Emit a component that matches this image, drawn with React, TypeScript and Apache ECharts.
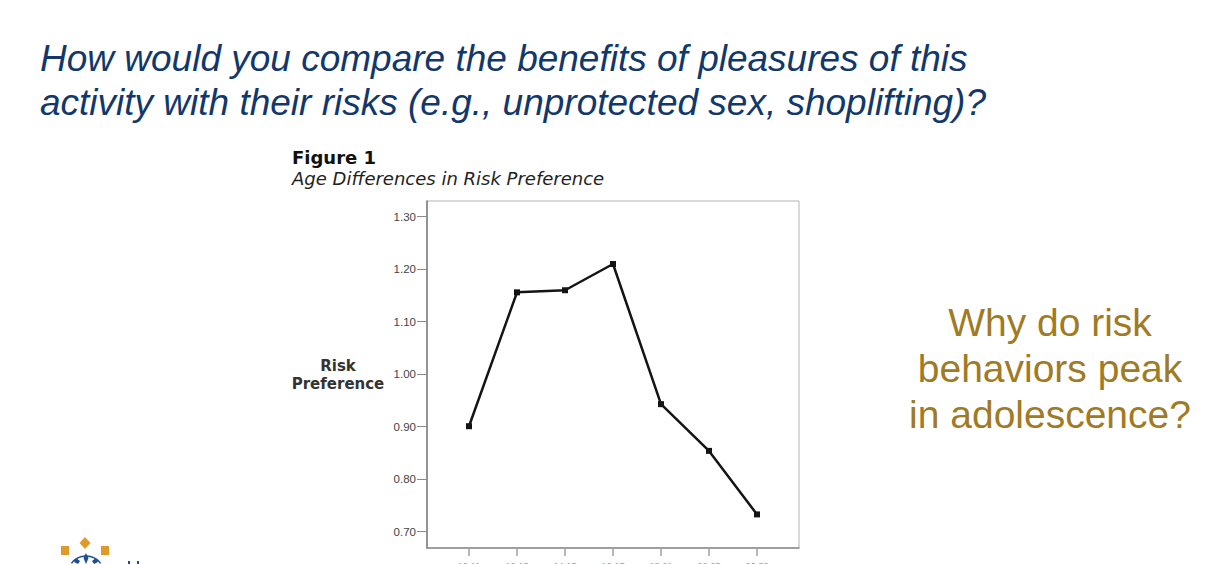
import React, { useEffect, useRef } from "react";
import * as echarts from "echarts";

const ageGroups = ["10-11", "12-13", "14-15", "16-17", "18-21", "22-25", "26-30"];
const riskPreference = [0.901, 1.156, 1.16, 1.21, 0.943, 0.854, 0.733];
const yTickValues = [0.7, 0.8, 0.9, 1.0, 1.1, 1.2, 1.3];
const xTickValues = ageGroups.map((_, i) => i);

const questionLines = [
  "How would you compare the benefits of pleasures of this",
  "activity with their risks (e.g., unprotected sex, shoplifting)?",
];
const sideLines = ["Why do risk", "behaviors peak", "in adolescence?"];

export default function App() {
  const ref = useRef<HTMLDivElement>(null);
  useEffect(() => {
    if (!ref.current) return;
    const chart = echarts.init(ref.current, undefined, { renderer: "svg" });
    const graphics: any[] = [];
    questionLines.forEach((t, i) => {
      graphics.push({
        type: "text",
        x: 40,
        y: 58 + i * 44,
        style: {
          text: t,
          fontFamily: "Liberation Sans, Arial, sans-serif",
          fontStyle: "italic",
          fontSize: 37,
          fill: "#12386b",
          textVerticalAlign: "middle",
        },
      });
    });
    sideLines.forEach((t, i) => {
      graphics.push({
        type: "text",
        x: 1050,
        y: 322 + i * 46,
        style: {
          text: t,
          fontFamily: "Liberation Sans, Arial, sans-serif",
          fontSize: 39,
          fill: "#a17a24",
          textAlign: "center",
          textVerticalAlign: "middle",
        },
      });
    });
    graphics.push({
      type: "text",
      x: 292,
      y: 157,
      style: {
        text: "Figure 1",
        fontFamily: "DejaVu Sans, sans-serif",
        fontWeight: "bold",
        fontSize: 18,
        fill: "#111",
        textVerticalAlign: "middle",
      },
    });
    graphics.push({
      type: "text",
      x: 292,
      y: 178,
      style: {
        text: "Age Differences in Risk Preference",
        fontFamily: "DejaVu Sans, sans-serif",
        fontStyle: "italic",
        fontSize: 18,
        fill: "#222",
        textVerticalAlign: "middle",
      },
    });
    // logo
    graphics.push({ type: "rect", shape: { x: 61, y: 546, width: 8, height: 9 }, style: { fill: "#e09a2a" } });
    graphics.push({ type: "rect", shape: { x: 101, y: 546, width: 8, height: 9 }, style: { fill: "#e09a2a" } });
    graphics.push({
      type: "polygon",
      shape: { points: [[85, 537], [90.5, 543], [85, 549], [79.5, 543]] },
      style: { fill: "#e09a2a" },
    });
    graphics.push({
      type: "arc",
      shape: { cx: 86, cy: 574, r: 18, startAngle: Math.PI * 1.2, endAngle: Math.PI * 1.8 },
      style: { stroke: "#1d4f8c", lineWidth: 1.5, fill: "none" },
    });
    graphics.push({
      type: "polygon",
      shape: { points: [[86, 553], [88.5, 558], [86, 564], [83.5, 558]] },
      style: { fill: "#1d4f8c" },
    });
    graphics.push({
      type: "polygon",
      shape: { points: [[76, 558], [80, 561], [78, 564], [74, 562]] },
      style: { fill: "#1d4f8c" },
    });
    graphics.push({
      type: "polygon",
      shape: { points: [[96, 558], [98, 562], [94, 564], [92, 561]] },
      style: { fill: "#1d4f8c" },
    });
    graphics.push({ type: "rect", shape: { x: 128, y: 561, width: 2, height: 3 }, style: { fill: "#1d4f8c" } });
    graphics.push({ type: "rect", shape: { x: 137, y: 561, width: 2, height: 3 }, style: { fill: "#1d4f8c" } });

    chart.setOption({
      animation: false,
      backgroundColor: "#ffffff",
      graphic: graphics,
      grid: {
        left: 427,
        top: 201,
        width: 372,
        height: 347,
        show: true,
        borderColor: "#b4b4b4",
        borderWidth: 1,
        containLabel: false,
        outerBoundsMode: "none",
      },
      xAxis: {
        type: "value",
        min: -0.875,
        max: 6.875,
        splitLine: { show: false },
        axisLine: { show: true, onZero: false, lineStyle: { color: "#8a8a8a", width: 1.5 } },
        axisTick: {
          show: true,
          customValues: xTickValues,
          length: 8,
          lineStyle: { color: "#a0a0a0", width: 1.5 },
        },
        axisLabel: {
          customValues: xTickValues,
          formatter: (v: number) => ageGroups[Math.round(v)] ?? "",
          fontFamily: "Liberation Sans, Arial, sans-serif",
          fontSize: 9,
          color: "#999",
          margin: 13,
        },
      },
      yAxis: {
        type: "value",
        min: 0.669,
        max: 1.33,
        splitLine: { show: false },
        axisLine: { show: true, onZero: false, lineStyle: { color: "#7a7a7a", width: 1.5 } },
        axisTick: {
          show: true,
          customValues: yTickValues,
          length: 10,
          lineStyle: { color: "#8a8a8a", width: 1 },
        },
        axisLabel: {
          customValues: yTickValues,
          formatter: (v: number) => v.toFixed(2),
          fontFamily: "Liberation Sans, Arial, sans-serif",
          fontSize: 11.5,
          color: "#444",
          margin: 11,
        },
        name: "Risk\nPreference",
        nameLocation: "middle",
        nameGap: 89,
        nameRotate: 0,
        nameTextStyle: {
          fontFamily: "DejaVu Sans, sans-serif",
          fontWeight: "bold",
          fontSize: 15,
          color: "#333",
          align: "center",
          verticalAlign: "middle",
          lineHeight: 18,
        },
      },
      series: [
        {
          type: "line",
          data: riskPreference.map((v, i) => [i, v]),
          symbol: "rect",
          symbolSize: 6,
          lineStyle: { color: "#141414", width: 2.5 },
          itemStyle: { color: "#141414" },
        },
      ],
    });
    return () => chart.dispose();
  }, []);
  return (
    <div
      ref={ref}
      style={{ position: "fixed", left: 0, top: 0, width: 1216, height: 564 }}
    />
  );
}
